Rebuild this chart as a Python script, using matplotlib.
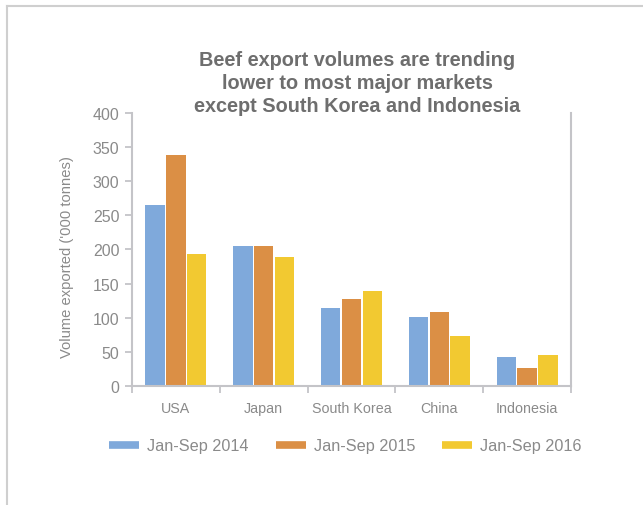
import matplotlib.pyplot as plt
from matplotlib.lines import Line2D
import numpy as np

markets = ["USA", "Japan", "South Korea", "China", "Indonesia"]
series = ["Jan-Sep 2014", "Jan-Sep 2015", "Jan-Sep 2016"]
vol_2014 = [265, 205, 114, 101, 42]
vol_2015 = [338, 205, 127, 108, 26]
vol_2016 = [193, 189, 139, 73, 45]
colors = ["#7FA9DB", "#DB8F45", "#F2C931"]

plt.rcParams["font.family"] = ["Liberation Sans", "DejaVu Sans"]
grey_axis = "#C4C4C8"
grey_text = "#8A8A8A"

fig = plt.figure(figsize=(6.43, 5.06), dpi=100)
ax = fig.add_axes([0.2053, 0.2352, 0.6827, 0.5395])

x = np.arange(len(markets))
w = 0.22
step = 0.237
for i, (vals, c) in enumerate(zip([vol_2014, vol_2015, vol_2016], colors)):
    ax.bar(x + (i - 1) * step, vals, width=w, color=c, label=series[i])

ax.set_xlim(-0.5, len(markets) - 0.5)
ax.set_ylim(0, 400)
ax.set_yticks(range(0, 401, 50))
ax.set_xticks(x)
ax.set_xticklabels(markets)
ax.set_xticks(np.arange(-0.5, len(markets), 1), minor=True)

ax.tick_params(axis="x", which="major", length=0, pad=11, labelsize=10.3, labelcolor=grey_text)
ax.tick_params(axis="x", which="minor", length=5, width=1.3, color=grey_axis, direction="out")
ax.tick_params(axis="y", length=5, width=1.3, color=grey_axis, pad=4, labelsize=11.5, labelcolor=grey_text)

for side in ["left", "bottom", "right"]:
    ax.spines[side].set_color(grey_axis)
    ax.spines[side].set_linewidth(1.5)
ax.spines["top"].set_visible(False)

ax.set_ylabel("Volume exported ('000 tonnes)", color=grey_text, fontsize=10.6)
ax.yaxis.set_label_coords(-0.132, 0.475)

fig.text(0.556, 0.835, "Beef export volumes are trending\nlower to most major markets\nexcept South Korea and Indonesia",
         ha="center", va="center", fontsize=14.3, fontweight="bold", color="#6E6E6E", linespacing=1.26)

handles = [Line2D([0], [0], color=c, lw=5.5, solid_capstyle="butt") for c in colors]
fig.legend(handles, series, loc="center", bbox_to_anchor=(0.537, 0.117), ncol=3, frameon=False,
           fontsize=11.7, labelcolor=grey_text, handlelength=1.85, handletextpad=0.5, columnspacing=1.66)

# thin outer frame along the top and left edges
fig.add_artist(Line2D([0.011, 1.0], [0.986, 0.986], transform=fig.transFigure, color="#CFCFCF", lw=1.5))
fig.add_artist(Line2D([0.011, 0.011], [0.0, 0.986], transform=fig.transFigure, color="#CFCFCF", lw=1.5))

fig.savefig("out.png", dpi=100)
